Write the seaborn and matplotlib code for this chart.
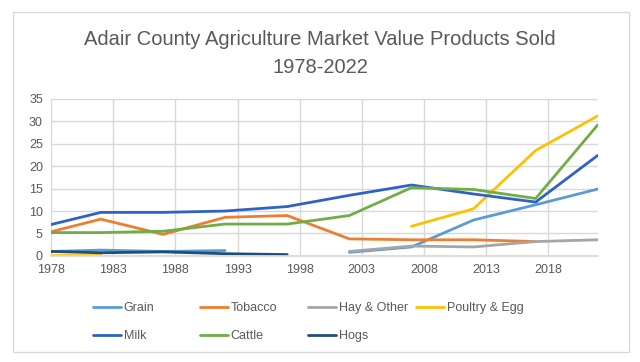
import numpy as np
import pandas as pd
import matplotlib
matplotlib.use("Agg")
import matplotlib.pyplot as plt
import seaborn as sns
from matplotlib.patches import Rectangle

# census years and values (million $)
years_all = [1978, 1982, 1987, 1992, 1997, 2002, 2007, 2012, 2017, 2022]

grain_years = [1978, 1982, 1987, 1992, 2002, 2007, 2012, 2017, 2022]
grain = [1.0, 1.3, 1.0, 1.2, 0.8, 2.0, 8.0, 11.4, 14.9]

tobacco_years = [1978, 1982, 1987, 1992, 1997, 2002, 2007, 2012, 2017]
tobacco = [5.4, 8.2, 4.8, 8.6, 9.0, 3.8, 3.6, 3.6, 3.2]

hay_years = [2002, 2007, 2012, 2017, 2022]
hay = [1.0, 2.2, 2.0, 3.2, 3.6]

poultry_years = [1978, 1982, 2007, 2012, 2017, 2022]
poultry = [0.2, 0.2, 6.6, 10.5, 23.5, 31.2]

milk_years = years_all
milk = [7.0, 9.7, 9.7, 10.0, 11.0, 13.5, 15.8, 13.8, 12.0, 22.4]

cattle_years = years_all
cattle = [5.2, 5.2, 5.5, 7.1, 7.1, 9.0, 15.2, 14.8, 12.8, 29.2]

hogs_years = [1978, 1982, 1987, 1992, 1997]
hogs = [1.0, 0.7, 0.9, 0.5, 0.3]

series = [
    ("Grain", grain_years, grain, "#5B9BD5"),
    ("Tobacco", tobacco_years, tobacco, "#ED7D31"),
    ("Hay & Other", hay_years, hay, "#A5A5A5"),
    ("Poultry & Egg", poultry_years, poultry, "#FFC000"),
    ("Milk", milk_years, milk, "#2F62C4"),
    ("Cattle", cattle_years, cattle, "#70AD47"),
    ("Hogs", hogs_years, hogs, "#1F4E79"),
]

sns.set_theme(style="white")
plt.rcParams["font.family"] = ["Liberation Sans", "DejaVu Sans"]
txt = "#595959"

fig = plt.figure(figsize=(6.4, 3.62), dpi=100)
ax = fig.add_axes([0.08, 0.293, 0.854, 0.434])

for name, yrs, vals, col in series:
    df = pd.DataFrame({"Year": yrs, "Value": vals})
    # split at gaps between census years so missing data stays a gap
    grp = (df["Year"].diff() > 5).cumsum()
    first = True
    for _, part in df.groupby(grp):
        sns.lineplot(data=part, x="Year", y="Value", ax=ax, color=col,
                     linewidth=2, label=name if first else None, legend=False)
        first = False

ax.set_xlim(1978, 2022)
ax.set_ylim(0, 35)
ax.set_xticks(np.arange(1978, 2019, 5))
ax.set_yticks(np.arange(0, 36, 5))
ax.grid(True, color="#D9D9D9", linewidth=1)
ax.set_xlabel("")
ax.set_ylabel("")
for s in ["top", "right", "left"]:
    ax.spines[s].set_visible(False)
ax.spines["bottom"].set_color("#D9D9D9")
ax.tick_params(axis="both", colors=txt, labelsize=9, length=0, pad=6)

fig.text(0.5, 0.892, "Adair County Agriculture Market Value Products Sold",
         ha="center", va="center", fontsize=14.5, color=txt)
fig.text(0.5, 0.814, "1978-2022", ha="center", va="center", fontsize=14.5, color=txt)

# legend laid out row by row in four equal-width columns
handles, labels = ax.get_legend_handles_labels()
col_x = [93, 200, 308, 416]
for c, x in enumerate(col_x):
    idx = [i for i in range(len(handles)) if i % 4 == c]
    fig.legend([handles[i] for i in idx], [labels[i] for i in idx],
               loc="upper left", bbox_to_anchor=(x / 640, 1 - 302 / 362),
               frameon=False, fontsize=9, labelcolor=txt,
               handlelength=2.2, handletextpad=0.25, borderpad=0,
               borderaxespad=0, labelspacing=1.3)

fig.patches.append(Rectangle((13 / 640, 1 - 352 / 362), 616 / 640, 340 / 362,
                             transform=fig.transFigure, fill=False,
                             edgecolor="#D9D9D9", linewidth=1))

fig.savefig("out.png", dpi=100)
